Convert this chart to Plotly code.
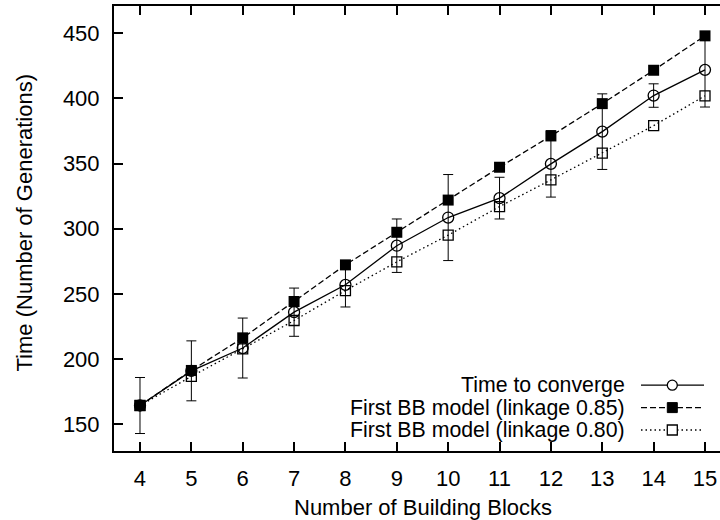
import plotly.graph_objects as go

# ---- data ----
blocks = [4, 5, 6, 7, 8, 9, 10, 11, 12, 13, 14, 15]
time_to_converge = [164.4, 191.0, 208.5, 236.0, 257.0, 287.0, 308.6, 323.5, 349.8, 374.5, 402.2, 421.9]
converge_err = [21.5, 23.0, 23.0, 18.5, 17.0, 20.5, 33.0, 16.0, 25.5, 29.0, 9.0, 28.5]
model_085 = [164.4, 191.3, 216.3, 244.2, 272.3, 297.3, 322.0, 347.2, 371.2, 396.0, 421.6, 448.0]
model_080 = [164.4, 186.7, 207.9, 229.6, 252.6, 274.6, 295.1, 317.0, 337.5, 358.0, 379.1, 402.0]
y_ticks = [150, 200, 250, 300, 350, 400, 450]
series_names = ["Time to converge", "First BB model (linkage 0.85)", "First BB model (linkage 0.80)"]

FONT = "Liberation Sans, Arial, Helvetica, sans-serif"
W, H = 720, 520
L, R, T, B = 114, 0, 6, 69
PW, PH = W - L - R, H - T - B

def px(xp):
    return (xp - L) / PW

def py(yp):
    return (H - B - yp) / PH

fig = go.Figure()
fig.add_trace(go.Scatter(
    x=blocks, y=time_to_converge, mode="lines+markers", name=series_names[0],
    line=dict(color="black", width=1.3),
    marker=dict(symbol="circle-open", size=11, color="black", line=dict(width=1.3)),
    error_y=dict(type="data", array=converge_err, visible=True, color="black", thickness=1, width=5),
    showlegend=False,
))
fig.add_trace(go.Scatter(
    x=blocks, y=model_085, mode="lines+markers", name=series_names[1],
    line=dict(color="black", width=1.3, dash="6px,3px"),
    marker=dict(symbol="square", size=11, color="black"),
    showlegend=False,
))
fig.add_trace(go.Scatter(
    x=blocks, y=model_080, mode="lines+markers", name=series_names[2],
    line=dict(color="black", width=1.3, dash="1.5px,3px"),
    marker=dict(symbol="square-open", size=10, color="black", line=dict(width=1.3)),
    showlegend=False,
))

# custom legend (text right, sample on the right, like gnuplot)
rows_y = [385.2, 407.6, 430.0]
dashes = ["solid", "6px,3px", "1.5px,3px"]
shapes = []
annotations = []
for i, name in enumerate(series_names):
    yy = py(rows_y[i])
    annotations.append(dict(x=px(627), y=yy, xref="paper", yref="paper", text=name,
                            showarrow=False, xanchor="right", yanchor="middle",
                            font=dict(family=FONT, size=21.3, color="black")))
    shapes.append(dict(type="line", xref="paper", yref="paper", x0=px(641), x1=px(704),
                       y0=yy, y1=yy, line=dict(color="black", width=1.3, dash=dashes[i])))
    cx, cy, r = 672.3, rows_y[i], 5
    if i == 0:
        shapes.append(dict(type="circle", xref="paper", yref="paper",
                           x0=px(cx - r), x1=px(cx + r), y0=py(cy + r), y1=py(cy - r),
                           line=dict(color="black", width=1.3), fillcolor="white"))
    elif i == 1:
        shapes.append(dict(type="rect", xref="paper", yref="paper",
                           x0=px(cx - r), x1=px(cx + r), y0=py(cy + r), y1=py(cy - r),
                           line=dict(color="black", width=1), fillcolor="black"))
    else:
        shapes.append(dict(type="rect", xref="paper", yref="paper",
                           x0=px(cx - r), x1=px(cx + r), y0=py(cy + r), y1=py(cy - r),
                           line=dict(color="black", width=1.3), fillcolor="white"))

annotations.append(dict(x=px(423), y=py(507), xref="paper", yref="paper",
                        text="Number of Building Blocks", showarrow=False,
                        xanchor="center", yanchor="middle",
                        font=dict(family=FONT, size=22, color="black")))
annotations.append(dict(x=px(24), y=py(222.5), xref="paper", yref="paper",
                        text="Time (Number of Generations)", showarrow=False, textangle=-90,
                        xanchor="center", yanchor="middle",
                        font=dict(family=FONT, size=22, color="black")))

fig.update_layout(
    width=W, height=H,
    margin=dict(l=L, r=R, t=T, b=B, pad=0),
    paper_bgcolor="white", plot_bgcolor="white",
    font=dict(family=FONT, size=22, color="black"),
    shapes=shapes, annotations=annotations,
    showlegend=False,
)
fig.update_xaxes(
    range=[3.494, 15.292], tickmode="array", tickvals=blocks,
    ticks="inside", ticklen=9, tickwidth=1.5, tickcolor="black",
    showline=True, linewidth=2, linecolor="black", mirror="allticks",
    showgrid=False, zeroline=False, ticklabelstandoff=7,
    tickfont=dict(family=FONT, size=22, color="black"),
)
fig.update_yaxes(
    range=[129.5, 470.9], tickmode="array", tickvals=y_ticks,
    ticks="inside", ticklen=9, tickwidth=1.5, tickcolor="black",
    showline=True, linewidth=2, linecolor="black", mirror=False,
    showgrid=False, zeroline=False, ticklabelstandoff=8,
    tickfont=dict(family=FONT, size=22, color="black"),
)

fig.write_html("out.html")
